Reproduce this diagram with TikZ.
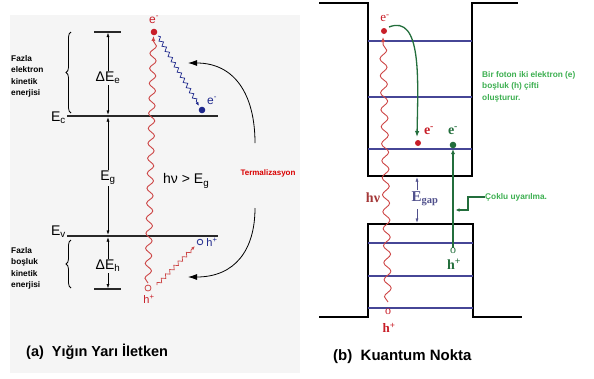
\documentclass[tikz,border=0pt]{standalone}
\usepackage{fontspec}
\setmainfont{Liberation Sans}
\newfontfamily\serifx{Liberation Serif}
\usetikzlibrary{decorations.pathmorphing,decorations.pathreplacing,arrows.meta}
\definecolor{lvl}{RGB}{70,70,150}
\definecolor{wred}{RGB}{205,70,70}
\definecolor{dred}{RGB}{200,30,40}
\definecolor{dblue}{RGB}{30,40,140}
\definecolor{dgreen}{RGB}{35,110,60}
\definecolor{lgreen}{RGB}{60,175,80}
\definecolor{egap}{RGB}{80,80,140}
\definecolor{bgray}{RGB}{245,245,245}
\tikzset{
  band/.style={line width=2pt, draw={rgb,255:red,40;green,40;blue,40}},
  well/.style={line width=1.8pt, draw=black},
  level/.style={line width=1.2pt, draw=lvl},
  dim/.style={thin, draw=black, -{Latex[length=4pt,width=3pt]}},
  sans/.style={font=\fontsize{14}{16}\selectfont},
  small/.style={font=\fontsize{8.3}{11.5}\selectfont\bfseries, align=left, inner sep=0pt},
  bigw/.style={wred, line width=0.9pt, decorate, decoration={snake, amplitude=3.2pt, segment length=15pt, post length=4pt}},
  bigwb/.style={wred, line width=0.9pt, decorate, decoration={snake, amplitude=3.5pt, segment length=17pt, post length=4pt}},
  smallw/.style={line width=0.7pt, decorate, decoration={snake, amplitude=1.8pt, segment length=6pt, post length=4pt}},
  serlab/.style={font=\serifx\fontsize{14}{16}\selectfont\bfseries, inner sep=0pt},
  title/.style={font=\fontsize{14.5}{17}\selectfont\bfseries, anchor=west, inner sep=0pt},
  garrow/.style={draw=dgreen, line width=1.3pt},
}
\begin{document}
\begin{tikzpicture}[x=1pt,y=-1pt]
\useasboundingbox (0,0) rectangle (594,378);
\fill[bgray] (10,15) rectangle (300,373);

% ---------- (a) bulk ----------
\draw[band] (67,116) -- (218,116);
\draw[band] (67,236) -- (218,236);
\node[sans, anchor=east, inner sep=0pt] (ec) at (66,118) {E\textsubscript{c}};
\node[sans, anchor=east, inner sep=0pt] (ev) at (66,232) {E\textsubscript{v}};
\draw[band, line width=1.8pt] (94,32) -- (121,32);
\draw[band, line width=1.8pt] (94,289) -- (121,289);

\node[sans, inner sep=1pt, fill=bgray] (dee) at (108,78) {ΔE\textsubscript{e}};
\draw[dim] (dee.north) -- (108,33);
\draw[dim] (dee.south) -- (108,114.5);
\node[sans, inner sep=1pt, fill=bgray] (eg) at (108,178) {E\textsubscript{g}};
\draw[dim] (eg.north) -- (108,117.5);
\draw[dim] (eg.south) -- (108,234.5);
\node[sans, inner sep=1pt, fill=bgray] (deh) at (108,266) {ΔE\textsubscript{h}};
\draw[dim] (deh.north) -- (108,237.5);
\draw[dim] (deh.south) -- (108,288);

\draw[thick, decorate, decoration={brace, amplitude=5pt}] (71,113) -- (71,32);
\draw[thick, decorate, decoration={brace, amplitude=5pt}] (71,288) -- (71,240);

\node[small, anchor=north west] (fe) at (11,55) {Fazla\\elektron\\kinetik\\enerjisi};
\node[small, anchor=north west] (fb) at (11,247) {Fazla\\boşluk\\kinetik\\enerjisi};

% red wave
\coordinate (hb) at (148,288);
\fill[dred] (154,32) circle (3.3pt);
\node[dred, font=\fontsize{12}{14}\selectfont, inner sep=0pt] at (154,20) {e\textsuperscript{-}};
\draw[bigw, -{Latex[length=5pt,width=4pt]}] (148,283) -- (153.5,36);
\draw[wred, thick] (hb) circle (3pt);
\node[dred, font=\fontsize{11}{13}\selectfont, inner sep=0pt] at (149,299) {h\textsuperscript{+}};
\node[sans, anchor=west, inner sep=0pt] at (163,181) {hν > E\textsubscript{g}};

% blue thermalization of electron
\fill[dblue] (202,110) circle (3.3pt);
\node[dblue, font=\fontsize{12}{14}\selectfont, inner sep=0pt] at (212,101) {e\textsuperscript{-}};
\draw[smallw, dblue, -{Latex[length=4pt,width=3pt]}] (158,36) -- (199,106);
% hole
\draw[dblue, thick] (200,242) circle (2.8pt);
\node[dblue, font=\fontsize{11}{13}\selectfont, inner sep=0pt] at (212,242) {h\textsuperscript{+}};
\draw[smallw, wred, -{Latex[length=4pt,width=3pt]}] (157,285) -- (195,246);

% curved arrows
\draw[line width=0.8pt, -{Latex[length=9pt,width=6pt]}] (255,143) .. controls (255,95) and (235,63) .. (188,63);
\draw[line width=0.8pt, -{Latex[length=9pt,width=6pt]}] (255,208) .. controls (255,250) and (235,277) .. (188,277);
\node[red!85!black, font=\fontsize{8}{10}\selectfont\bfseries, inner sep=0pt] (th) at (268,173) {Termalizasyon};

\node[title] (ta) at (26,352) {(a)\ \ Yığın Yarı İletken};

% ---------- (b) quantum dot ----------
\draw[well] (319,3) -- (368,3) -- (368,176) -- (472,176) -- (472,3) -- (518,3);
\draw[level] (368,41) -- (472,41);
\draw[level] (368,97) -- (472,97);
\draw[level] (368,149) -- (472,149);
\draw[well] (319,317) -- (368,317) -- (368,224) -- (473,224) -- (473,317) -- (522,317);
\draw[level] (368,243) -- (473,243);
\draw[level] (368,276) -- (473,276);
\draw[level] (368,308) -- (473,308);

% red photon
\draw[bigwb, -{Latex[length=5pt,width=4pt]}] (388,302) -- (383,37);
\fill[dred] (384,31) circle (3pt);
\node[dred, font=\serifx\fontsize{13}{15}\selectfont, inner sep=0pt] at (385,18) {e\textsuperscript{-}};
\node[dred, font=\serifx\fontsize{12}{14}\selectfont, inner sep=0pt] at (388,312) {o};
\node[dred, font=\serifx\fontsize{13}{15}\selectfont\bfseries, inner sep=0pt] at (389,328) {h\textsuperscript{+}};
\node[serlab, wred!80!black] at (373,198) {hν};

% E gap
\node[serlab, egap, font=\serifx\fontsize{15}{17}\selectfont\bfseries] (eg2) at (425,199) {E\textsubscript{gap}};
\draw[dim, egap] (417,190) -- (417,177.5);
\draw[dim, egap] (417,209) -- (417,222.5);

% green curved arrow
\draw[garrow, -{Latex[length=6pt,width=4.5pt]}] (389,27) .. controls (422,14) and (418,80) .. (417,137);
\fill[dred] (418,143) circle (3pt);
\node[dred, font=\serifx\fontsize{14}{15}\selectfont\bfseries, inner sep=0pt] at (429,131) {e\textsuperscript{-}};

% second pair
\fill[dgreen] (453,145) circle (3.3pt);
\node[dgreen, font=\serifx\fontsize{14}{15}\selectfont\bfseries, inner sep=0pt] at (453,131) {e\textsuperscript{-}};
\node[dgreen, font=\serifx\fontsize{12}{14}\selectfont, inner sep=0pt] (h2) at (453,251) {o};
\draw[garrow, -{Latex[length=5pt,width=4pt]}] (h2.north) -- (453,149);
\node[dgreen, serlab] at (454,264) {h\textsuperscript{+}};

% callouts
\node[lgreen, small, anchor=north west] (t1) at (482,71) {Bir foton iki elektron (e)\\boşluk (h) çifti\\oluşturur.};
\node[lgreen, small, anchor=west] (t2) at (485,197) {Çoklu uyarılma.};
\draw[garrow, -{Latex[length=4pt,width=3.5pt]}] (t2.west) -- (468,197) -- (468,210) -- (455.5,210);

\node[title, font=\fontsize{15}{17}\selectfont\bfseries] (tb) at (333,357) {(b)\ \ Kuantum Nokta};
\end{tikzpicture}
\end{document}
